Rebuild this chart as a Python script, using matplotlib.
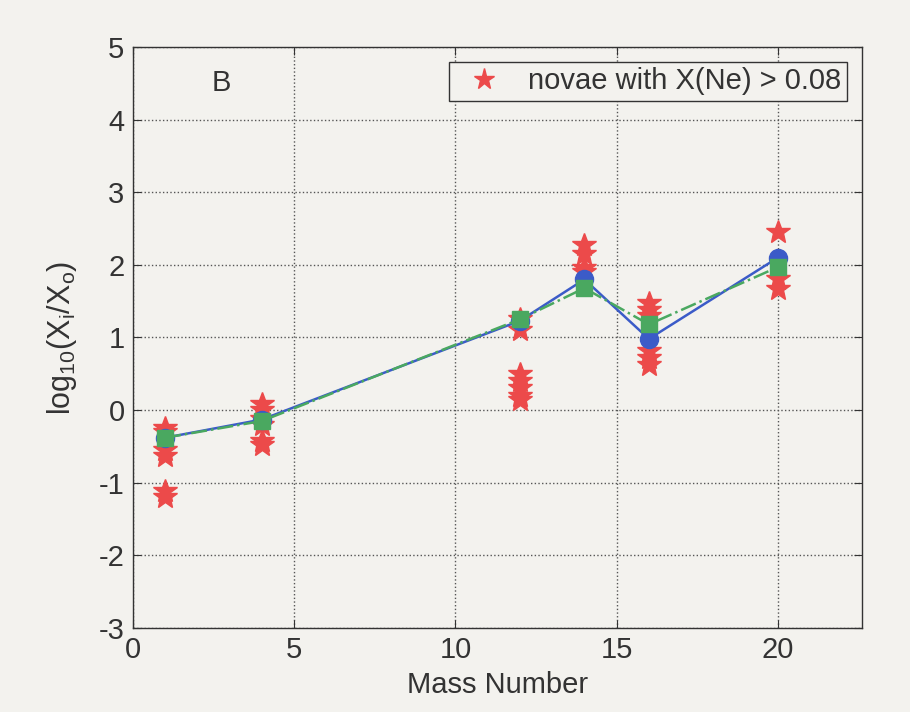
import numpy as np
import matplotlib
matplotlib.use('Agg')
import matplotlib.pyplot as plt

plt.rcParams['font.family'] = ['Liberation Sans', 'DejaVu Sans']
plt.rcParams['axes.unicode_minus'] = False
plt.rcParams['mathtext.fontset'] = 'custom'
plt.rcParams['mathtext.rm'] = 'Liberation Sans'

# individual novae (stars)
nova_x = [1, 1, 1, 1, 1, 1,
          4, 4, 4, 4, 4, 4,
          12, 12, 12, 12, 12, 12, 12,
          14, 14, 14, 14,
          16, 16, 16, 16, 16, 16,
          20, 20, 20]
nova_y = [-0.25, -0.3, -0.55, -0.63, -1.12, -1.2,
          0.08, 0.0, -0.12, -0.2, -0.42, -0.48,
          1.25, 1.1, 0.5, 0.4, 0.3, 0.2, 0.14,
          2.28, 2.15, 1.95, 1.9,
          1.48, 1.38, 1.3, 0.82, 0.72, 0.62,
          2.45, 1.8, 1.67]

# model curves
mass = [1, 4, 12, 14, 16, 20]
model_blue = [-0.38, -0.13, 1.23, 1.8, 0.98, 2.1]
model_green = [-0.38, -0.15, 1.25, 1.68, 1.18, 1.97]

xticks = [0, 5, 10, 15, 20]
yticks = [-3, -2, -1, 0, 1, 2, 3, 4, 5]

paper = '#f3f2ee'
ink = '#333333'
fig = plt.figure(figsize=(9.1, 7.12), dpi=100, facecolor=paper)
ax = fig.add_axes([0.146, 0.118, 0.801, 0.816], facecolor=paper)

ax.plot(nova_x, nova_y, linestyle='none', marker='*', markersize=18,
        color='#ec4a4a', markeredgecolor='#ec4a4a',
        label='novae with X(Ne) > 0.08', zorder=3)
ax.plot(mass, model_blue, '-', color='#3b5bc8', lw=1.8, marker='o',
        markersize=13, markerfacecolor='#3b5bc8', markeredgecolor='#3b5bc8',
        zorder=4)
ax.plot(mass, model_green, '-.', color='#4aa860', lw=1.8, marker='s',
        markersize=12, markerfacecolor='#4aa860', markeredgecolor='#4aa860',
        zorder=5)

ax.set_xlim(0, 22.6)
ax.set_ylim(-3, 5)
ax.set_xticks(xticks)
ax.set_yticks(yticks)
ax.tick_params(direction='in', length=6, labelsize=21, colors=ink,
               top=True, right=True, pad=6)
ax.grid(True, linestyle=':', color='#555555', lw=1.0)
for s in ax.spines.values():
    s.set_color(ink)
    s.set_linewidth(1.0)

ax.set_xlabel('Mass Number', fontsize=21, color=ink, labelpad=5)
ax.set_ylabel(r'log$_{\rm 10}$(X$_{\rm i}$/X$_{\rm o}$)', fontsize=22,
              color=ink, labelpad=14)
ax.text(2.75, 4.5, 'B', fontsize=21, color=ink, ha='center', va='center')

leg = ax.legend(loc='upper right', fontsize=21, fancybox=False, framealpha=1,
                edgecolor=ink, facecolor=paper, handlelength=2.0,
                handletextpad=0.5, borderpad=0.2, borderaxespad=0.5,
                markerscale=0.85)
leg.get_frame().set_linewidth(1.0)
for t in leg.get_texts():
    t.set_color(ink)

fig.savefig('out.png', dpi=100, facecolor=paper)
